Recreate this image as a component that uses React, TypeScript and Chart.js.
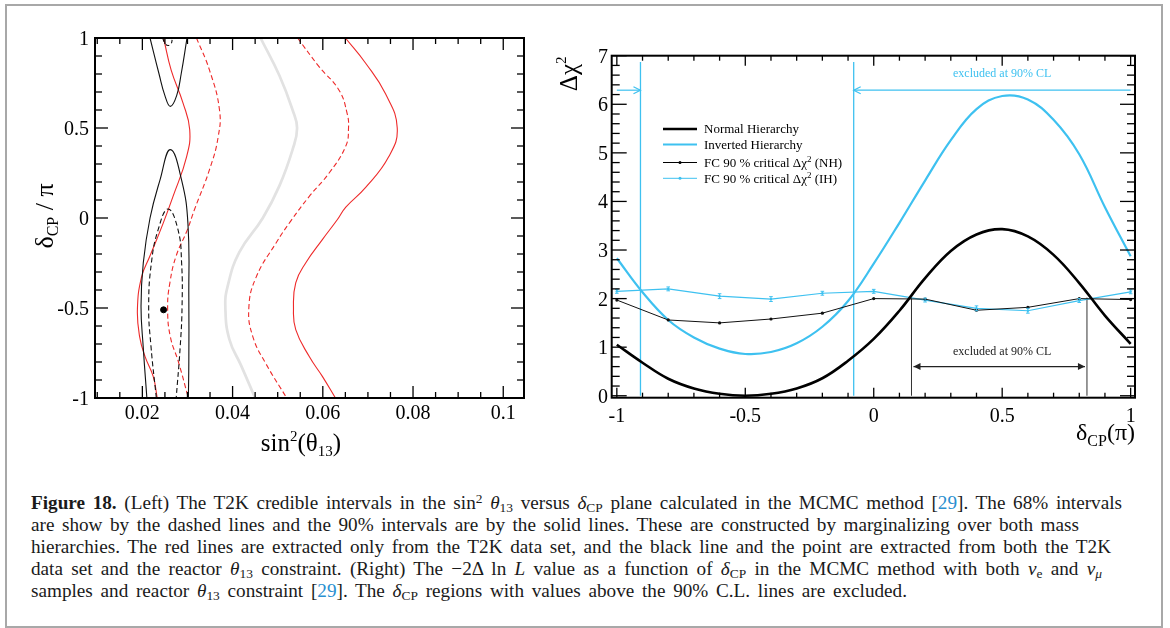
import React, { useEffect, useRef } from "react";
import { Chart, registerables } from "chart.js";
Chart.register(...registerables);

const SERIF = '"Liberation Serif", "DejaVu Serif", serif';
const RED = "#ee2a2a";
const CYAN = "#3ec1f0";
const GREY = "#e2e2e2";

// ---------- Left panel: contours, points are [sin^2(theta13), deltaCP/pi] ----------
const greyContour: [number, number][] = [
  [0.0462, 1.0], [0.0504, 0.79], [0.0533, 0.6], [0.0543, 0.5], [0.0533, 0.38], [0.0504, 0.18],
  [0.0467, 0.0], [0.0415, -0.19], [0.0389, -0.38], [0.0384, -0.5], [0.0393, -0.675], [0.0419, -0.82], [0.045, -1.0],
];
const redSolidOuter: [number, number][] = [
  [0.065, 1.0], [0.0695, 0.86], [0.0739, 0.69], [0.0765, 0.5], [0.0746, 0.34], [0.0695, 0.17], [0.0651, 0.06],
  [0.0632, -0.01], [0.0599, -0.12], [0.0562, -0.25], [0.054, -0.36], [0.0535, -0.5], [0.054, -0.62], [0.057, -0.77],
  [0.0599, -0.88], [0.0628, -1.0],
];
const redDashedOuter: [number, number][] = [
  [0.0544, 1.0], [0.0592, 0.84], [0.0636, 0.71], [0.0654, 0.58], [0.0657, 0.5], [0.0651, 0.4], [0.0614, 0.25],
  [0.057, 0.12], [0.0528, -0.02], [0.0496, -0.14], [0.0452, -0.33], [0.0436, -0.5], [0.0445, -0.66], [0.0474, -0.81],
  [0.052, -1.0],
];
const redDashedInner: [number, number][] = [
  [0.032, 1.0], [0.0349, 0.82], [0.0371, 0.6], [0.0368, 0.45], [0.0349, 0.27], [0.0316, 0.05], [0.0299, -0.07],
  [0.0275, -0.21], [0.0261, -0.36], [0.0256, -0.5], [0.0262, -0.66], [0.028, -0.8], [0.0302, -1.0],
];
const redSolidInner: [number, number][] = [
  [0.0247, 1.0], [0.0264, 0.82], [0.029, 0.64], [0.0305, 0.49], [0.0298, 0.34], [0.0268, 0.12], [0.0246, -0.03],
  [0.0217, -0.21], [0.0198, -0.33], [0.0189, -0.51], [0.0194, -0.66], [0.0206, -0.77], [0.0224, -0.88], [0.0233, -1.0],
];
const blackSolidTop: [number, number][] = [
  [0.0217, 1.0], [0.0237, 0.8], [0.025, 0.68], [0.0262, 0.62], [0.0276, 0.68], [0.0286, 0.8], [0.0299, 1.0],
];
const blackSolidBottom: [number, number][] = [
  [0.021, -1.0], [0.0202, -0.72], [0.0197, -0.49], [0.0202, -0.25], [0.0217, 0.0], [0.0239, 0.21], [0.0262, 0.38],
  [0.0287, 0.21], [0.0301, -0.03], [0.0303, -0.44], [0.0303, -0.8], [0.0302, -1.0],
];
const blackDashed: [number, number][] = [
  [0.0231, -1.0], [0.0219, -0.71], [0.0214, -0.49], [0.022, -0.25], [0.0235, -0.065], [0.0257, 0.05],
  [0.0279, -0.065], [0.0287, -0.25], [0.0288, -0.49], [0.0284, -0.71], [0.0275, -1.0],
];
const blackDashedTop: [number, number][] = [
  [0.0245, 1.0], [0.025, 0.97], [0.0257, 0.958], [0.0264, 0.97], [0.0266, 0.99],
];
const bestFit: [number, number][] = [[0.0247, -0.51]];

const leftXTicks = [0.02, 0.04, 0.06, 0.08, 0.1];
const leftXTickText = ["0.02", "0.04", "0.06", "0.08", "0.1"];
const leftYTicks = [1, 0.5, 0, -0.5, -1];
const leftYTickText = ["1", "0.5", "0", "-0.5", "-1"];

// ---------- Right panel ----------
const deltaCP = [-1, -0.9, -0.8, -0.7, -0.6, -0.5, -0.4, -0.3, -0.2, -0.1, 0, 0.1, 0.2, 0.3, 0.4, 0.5, 0.6, 0.7, 0.8, 0.9, 1];
const nhChi2 = [1.05, 0.68, 0.35, 0.15, 0.04, 0.0, 0.04, 0.15, 0.36, 0.72, 1.17, 1.75, 2.42, 2.98, 3.32, 3.43, 3.28, 2.9, 2.32, 1.65, 1.07];
const ihChi2 = [2.83, 2.13, 1.56, 1.2, 0.97, 0.86, 0.9, 1.08, 1.42, 1.95, 2.72, 3.56, 4.43, 5.26, 5.9, 6.17, 6.1, 5.68, 4.97, 3.88, 2.87];
const fcDelta = [-1, -0.8, -0.6, -0.4, -0.2, 0, 0.2, 0.4, 0.6, 0.8, 1];
const fcNH = [1.97, 1.56, 1.5, 1.58, 1.7, 2.0, 1.99, 1.76, 1.82, 2.0, 1.98];
const fcIH = [2.15, 2.2, 2.05, 1.99, 2.11, 2.15, 1.97, 1.8, 1.75, 1.96, 2.14];
const fcIHErr = [0.04, 0.04, 0.05, 0.05, 0.04, 0.04, 0.04, 0.05, 0.05, 0.04, 0.04];
const ihExclBounds = [-0.908, -0.078];
const ihBoundTop = 6.87;
const nhExclBounds = [0.147, 0.83];
const nhBoundTop = 2.02;
const ihArrowY = 6.29;
const nhArrowY = 0.6;
const ihLabelY = 6.62;
const nhLabelY = 0.9;
const labelX = 0.5;
const rightXTicks = [-1, -0.5, 0, 0.5, 1];
const rightXTickText = ["-1", "-0.5", "0", "0.5", "1"];
const rightYTicks = [0, 1, 2, 3, 4, 5, 6, 7];
const rightYTickText = ["0", "1", "2", "3", "4", "5", "6", "7"];

type Seg = { t: string; size: number; dy?: number; italic?: boolean };

function segFont(s: Seg) {
  return `${s.italic ? "italic " : ""}${s.size}px ${SERIF}`;
}
function drawRich(ctx: CanvasRenderingContext2D, segs: Seg[], x: number, y: number, align: "left" | "center" | "right") {
  ctx.textAlign = "left";
  ctx.textBaseline = "alphabetic";
  let w = 0;
  for (const s of segs) {
    ctx.font = segFont(s);
    w += ctx.measureText(s.t).width;
  }
  let cx = align === "left" ? x : align === "center" ? x - w / 2 : x - w;
  for (const s of segs) {
    ctx.font = segFont(s);
    ctx.fillText(s.t, cx, y + (s.dy || 0));
    cx += ctx.measureText(s.t).width;
  }
}
function line(ctx: CanvasRenderingContext2D, x1: number, y1: number, x2: number, y2: number) {
  ctx.beginPath();
  ctx.moveTo(x1, y1);
  ctx.lineTo(x2, y2);
  ctx.stroke();
}
function arrowHead(ctx: CanvasRenderingContext2D, x: number, y: number, dir: number, filled: boolean) {
  const L = 7, H = 3.5;
  ctx.beginPath();
  ctx.moveTo(x - dir * L, y - H);
  ctx.lineTo(x, y);
  ctx.lineTo(x - dir * L, y + H);
  if (filled) {
    ctx.closePath();
    ctx.fill();
  } else ctx.stroke();
}

const curve = (pts: [number, number][], color: string, width: number, dash: number[] = []) => ({
  data: pts.map(([x, y]) => ({ x, y })),
  showLine: true,
  borderColor: color,
  backgroundColor: color,
  borderWidth: width,
  borderDash: dash,
  pointRadius: 0,
  tension: 0.45,
  cubicInterpolationMode: "default",
  fill: false,
});

const leftDecor = {
  id: "leftDecor",
  afterDatasetsDraw(chart: any) {
    const { ctx, chartArea: a } = chart;
    const x = chart.scales.x, y = chart.scales.y;
    ctx.save();
    ctx.strokeStyle = "#000";
    ctx.fillStyle = "#000";
    ctx.lineWidth = 1.3;
    for (let i = 2; i <= 20; i++) {
      const px = x.getPixelForValue(i * 0.005);
      if (px < a.left || px > a.right) continue;
      const len = i % 4 === 0 ? 12 : 6;
      line(ctx, px, a.bottom, px, a.bottom - len);
      line(ctx, px, a.top, px, a.top + len);
    }
    for (let i = -10; i <= 10; i++) {
      const py = y.getPixelForValue(i / 10);
      const len = i % 5 === 0 ? 13 : 7;
      line(ctx, a.left, py, a.left + len, py);
      line(ctx, a.right, py, a.right - len, py);
    }
    ctx.lineWidth = 2;
    ctx.strokeRect(a.left, a.top, a.right - a.left, a.bottom - a.top);
    ctx.font = `20px ${SERIF}`;
    ctx.textBaseline = "alphabetic";
    ctx.textAlign = "center";
    leftXTicks.forEach((v, i) => ctx.fillText(leftXTickText[i], x.getPixelForValue(v), 419));
    ctx.textAlign = "right";
    leftYTicks.forEach((v, i) => ctx.fillText(leftYTickText[i], 89, y.getPixelForValue(v) + 7));
    drawRich(ctx, [
      { t: "sin", size: 25 }, { t: "2", size: 15, dy: -10 }, { t: "(θ", size: 25 }, { t: "13", size: 15, dy: 5 }, { t: ")", size: 25 },
    ], 301, 451, "center");
    ctx.save();
    ctx.translate(53, 216);
    ctx.rotate(-Math.PI / 2);
    drawRich(ctx, [{ t: "δ", size: 26 }, { t: "CP", size: 16, dy: 5 }, { t: " / π", size: 26 }], 0, 0, "center");
    ctx.restore();
    ctx.restore();
  },
};

const rightDecor = {
  id: "rightDecor",
  afterDatasetsDraw(chart: any) {
    const { ctx, chartArea: a } = chart;
    const x = chart.scales.x, y = chart.scales.y;
    ctx.save();
    // error bars of FC (IH)
    ctx.strokeStyle = CYAN;
    ctx.lineWidth = 1;
    fcDelta.forEach((d, i) => {
      const px = x.getPixelForValue(d);
      const y1 = y.getPixelForValue(fcIH[i] - fcIHErr[i]);
      const y2 = y.getPixelForValue(fcIH[i] + fcIHErr[i]);
      line(ctx, px, y1, px, y2);
      line(ctx, px - 1.8, y1, px + 1.8, y1);
      line(ctx, px - 1.8, y2, px + 1.8, y2);
    });
    // IH exclusion arrows
    ctx.strokeStyle = CYAN;
    ctx.fillStyle = CYAN;
    ctx.lineWidth = 1.2;
    const ay = y.getPixelForValue(ihArrowY);
    const xm1 = x.getPixelForValue(-1), xp1 = x.getPixelForValue(1);
    const b0 = x.getPixelForValue(ihExclBounds[0]), b1 = x.getPixelForValue(ihExclBounds[1]);
    line(ctx, xm1, ay, b0, ay);
    arrowHead(ctx, b0, ay, 1, false);
    line(ctx, b1, ay, xp1, ay);
    arrowHead(ctx, b1, ay, -1, false);
    ctx.font = `12px ${SERIF}`;
    ctx.textAlign = "center";
    ctx.textBaseline = "middle";
    ctx.fillText("excluded at 90% CL", x.getPixelForValue(labelX), y.getPixelForValue(ihLabelY));
    // NH exclusion arrow
    ctx.strokeStyle = "#222";
    ctx.fillStyle = "#222";
    const ny = y.getPixelForValue(nhArrowY);
    const n0 = x.getPixelForValue(nhExclBounds[0]), n1 = x.getPixelForValue(nhExclBounds[1]);
    line(ctx, n0 + 2, ny, n1 - 2, ny);
    arrowHead(ctx, n0 + 2, ny, -1, true);
    arrowHead(ctx, n1 - 2, ny, 1, true);
    ctx.fillText("excluded at 90% CL", x.getPixelForValue(labelX), y.getPixelForValue(nhLabelY));

    // ticks & frame
    ctx.strokeStyle = "#000";
    ctx.fillStyle = "#000";
    ctx.lineWidth = 1.3;
    for (let i = -10; i <= 10; i++) {
      const px = x.getPixelForValue(i / 10);
      const len = i % 5 === 0 ? 10 : 5;
      line(ctx, px, a.bottom, px, a.bottom - len);
      line(ctx, px, a.top, px, a.top + len);
    }
    for (let i = 0; i <= 35; i++) {
      const py = y.getPixelForValue(i * 0.2);
      const len = i % 5 === 0 ? 15 : 8;
      line(ctx, a.left, py, a.left + len, py);
      line(ctx, a.right, py, a.right - len, py);
    }
    ctx.lineWidth = 2;
    ctx.strokeRect(a.left, a.top, a.right - a.left, a.bottom - a.top);
    ctx.font = `20px ${SERIF}`;
    ctx.textBaseline = "alphabetic";
    ctx.textAlign = "center";
    rightXTicks.forEach((v, i) => ctx.fillText(rightXTickText[i], x.getPixelForValue(v), 422));
    ctx.textAlign = "right";
    rightYTicks.forEach((v, i) => ctx.fillText(rightYTickText[i], 63, y.getPixelForValue(v) + 7));
    drawRich(ctx, [{ t: "δ", size: 24 }, { t: "CP", size: 16, dy: 6 }, { t: "(π)", size: 24 }], a.right, 440, "right");
    ctx.save();
    ctx.translate(32, 56.5);
    ctx.rotate(-Math.PI / 2);
    drawRich(ctx, [{ t: "Δχ", size: 25 }, { t: "2", size: 15, dy: -11 }], 0, 0, "right");
    ctx.restore();

    // legend
    const lx0 = 118, lx1 = 152, tx = 159;
    const rows = [
      { y: 129, color: "#000", w: 2.6, dot: false, segs: [{ t: "Normal Hierarchy", size: 13 }] },
      { y: 144.5, color: CYAN, w: 2.2, dot: false, segs: [{ t: "Inverted Hierarchy", size: 13 }] },
      { y: 162.5, color: "#000", w: 1, dot: true, segs: [{ t: "FC 90 % critical Δχ", size: 13 }, { t: "2", size: 9, dy: -5 }, { t: " (NH)", size: 13 }] },
      { y: 178.3, color: CYAN, w: 1, dot: true, segs: [{ t: "FC 90 % critical Δχ", size: 13 }, { t: "2", size: 9, dy: -5 }, { t: " (IH)", size: 13 }] },
    ];
    rows.forEach((r) => {
      ctx.strokeStyle = r.color;
      ctx.fillStyle = r.color;
      ctx.lineWidth = r.w;
      line(ctx, lx0, r.y, lx1, r.y);
      if (r.dot) {
        ctx.beginPath();
        ctx.arc((lx0 + lx1) / 2, r.y, 1.5, 0, Math.PI * 2);
        ctx.fill();
      }
      ctx.fillStyle = "#000";
      drawRich(ctx, r.segs, tx, r.y + 4.3, "left");
    });
    ctx.restore();
  },
};

function LeftChart() {
  const ref = useRef<HTMLCanvasElement>(null);
  useEffect(() => {
    const chart = new Chart(ref.current!, {
      type: "line",
      data: {
        datasets: [
          { data: bestFit.map(([x, y]) => ({ x, y })), pointRadius: 3, backgroundColor: "#000", borderColor: "#000", showLine: false } as any,
          curve(blackDashedTop, "#111", 1.1, [4, 3]),
          curve(blackDashed, "#111", 1.1, [5, 3]),
          curve(blackSolidTop, "#111", 1.1),
          curve(blackSolidBottom, "#111", 1.1),
          curve(redSolidInner, RED, 1.1),
          curve(redDashedInner, RED, 1.1, [5, 3]),
          curve(redDashedOuter, RED, 1.1, [5, 3]),
          curve(redSolidOuter, RED, 1.1),
          curve(greyContour, GREY, 2.7),
        ] as any,
      },
      options: {
        responsive: false,
        maintainAspectRatio: false,
        animation: false,
        events: [],
        layout: { padding: { left: 95, right: 21, top: 38, bottom: 72 } },
        scales: {
          x: { type: "linear", min: 0.0095, max: 0.1046, display: false },
          y: { type: "linear", min: -1, max: 1, display: false },
        },
        plugins: { legend: { display: false }, tooltip: { enabled: false } },
      },
      plugins: [leftDecor],
    });
    return () => chart.destroy();
  }, []);
  return <canvas ref={ref} width={545} height={470} style={{ position: "absolute", left: 0, top: 0, width: 545, height: 470 }} />;
}

function RightChart() {
  const ref = useRef<HTMLCanvasElement>(null);
  useEffect(() => {
    const pts = (xs: number[], ys: number[]) => xs.map((x, i) => ({ x, y: ys[i] }));
    const vline = (xv: number, top: number, color: string, w: number) => ({
      data: [{ x: xv, y: 0 }, { x: xv, y: top }],
      showLine: true, borderColor: color, borderWidth: w, pointRadius: 0, fill: false, tension: 0,
    });
    const chart = new Chart(ref.current!, {
      type: "line",
      data: {
        datasets: [
          { data: pts(deltaCP, nhChi2), borderColor: "#000", borderWidth: 2.6, pointRadius: 0, tension: 0.4 },
          { data: pts(fcDelta, fcNH), borderColor: "#111", backgroundColor: "#111", borderWidth: 1, pointRadius: 1.6, pointBorderWidth: 0, tension: 0 },
          { data: pts(fcDelta, fcIH), borderColor: CYAN, backgroundColor: CYAN, borderWidth: 1.2, pointRadius: 1.2, pointBorderWidth: 0, tension: 0 },
          { data: pts(deltaCP, ihChi2), borderColor: CYAN, borderWidth: 2.2, pointRadius: 0, tension: 0.4 },
          vline(nhExclBounds[0], nhBoundTop, "#333", 1),
          vline(nhExclBounds[1], nhBoundTop, "#333", 1),
          vline(ihExclBounds[0], ihBoundTop, CYAN, 1.3),
          vline(ihExclBounds[1], ihBoundTop, CYAN, 1.3),
        ] as any,
      },
      options: {
        responsive: false,
        maintainAspectRatio: false,
        animation: false,
        events: [],
        layout: { padding: { left: 66.7, right: 35, top: 55.7, bottom: 72.3 } },
        scales: {
          x: { type: "linear", min: -1.02, max: 1.017, display: false },
          y: { type: "linear", min: -0.04, max: 7, display: false },
        },
        plugins: { legend: { display: false }, tooltip: { enabled: false } },
      },
      plugins: [rightDecor],
    });
    return () => chart.destroy();
  }, []);
  return <canvas ref={ref} width={625} height={470} style={{ position: "absolute", left: 545, top: 0, width: 625, height: 470 }} />;
}

const sub: React.CSSProperties = { fontSize: "0.7em", verticalAlign: "-0.25em", lineHeight: 0 };
const sup: React.CSSProperties = { fontSize: "0.7em", verticalAlign: "0.45em", lineHeight: 0 };
const blue: React.CSSProperties = { color: "#2a8fd0" };
const lineStyle = (w: number): React.CSSProperties => ({ width: w, textAlign: "justify", textAlignLast: "justify", height: 22, overflow: "visible" });

export default function App() {
  return (
    <div style={{ position: "absolute", left: 0, top: 0, width: 1170, height: 628, overflow: "hidden", background: "#fff" }}>
      <div style={{ position: "absolute", left: 5, top: 4, width: 1154, height: 620, border: "2px solid #a8a8a8" }} />
      <LeftChart />
      <RightChart />
      <div style={{ position: "absolute", left: 31, top: 492, font: `19.2px ${SERIF}`, lineHeight: "22px", color: "#1a1a1a" }}>
        <div style={lineStyle(1091)}>
          <b>Figure 18.</b> (Left) The T2K credible intervals in the sin<span style={sup}>2</span> <i>θ</i><span style={sub}>13</span> versus <i>δ</i><span style={sub}>CP</span> plane calculated in the MCMC method [<span style={blue}>29</span>]. The 68% intervals
        </div>
        <div style={lineStyle(1048)}>
          are show by the dashed lines and the 90% intervals are by the solid lines. These are constructed by marginalizing over both mass
        </div>
        <div style={lineStyle(1080)}>
          hierarchies. The red lines are extracted only from the T2K data set, and the black line and the point are extracted from both the T2K
        </div>
        <div style={lineStyle(1071)}>
          data set and the reactor <i>θ</i><span style={sub}>13</span> constraint. (Right) The −2Δ ln <i>L</i> value as a function of <i>δ</i><span style={sub}>CP</span> in the MCMC method with both <i>ν</i><span style={sub}>e</span> and <i>ν</i><span style={sub}><i>μ</i></span>
        </div>
        <div style={lineStyle(876)}>
          samples and reactor <i>θ</i><span style={sub}>13</span> constraint [<span style={blue}>29</span>]. The <i>δ</i><span style={sub}>CP</span> regions with values above the 90% C.L. lines are excluded.
        </div>
      </div>
    </div>
  );
}
